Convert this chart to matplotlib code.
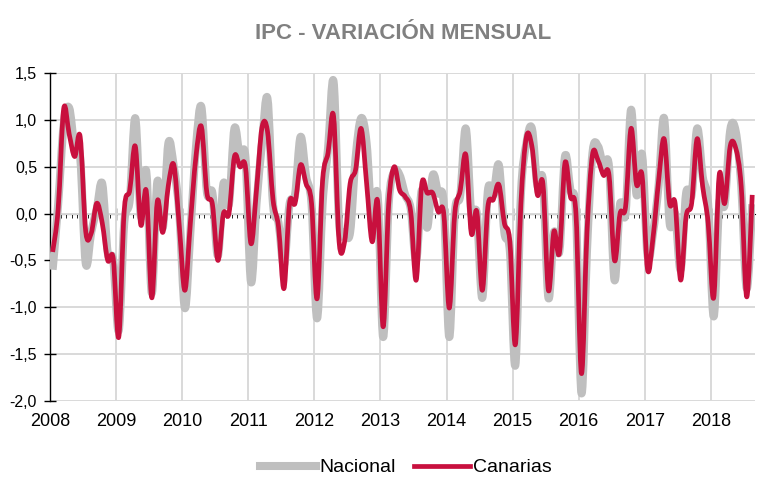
import matplotlib.pyplot as plt
import numpy as np
from matplotlib.path import Path
from matplotlib.patches import PathPatch
from matplotlib.lines import Line2D

plt.rcParams['font.family'] = ['Liberation Sans', 'DejaVu Sans']

# monthly data, Jan 2008 - Aug 2018
years = [str(y) for y in range(2008, 2019)]
nacional = [
    -0.60, 0.10, 0.95, 1.13, 0.70, 0.60, -0.53, -0.20, 0.05, 0.32, -0.42, -0.50,
    -1.25, -0.10, 0.15, 1.02, -0.03, 0.45, -0.85, 0.34, -0.15, 0.75, 0.50, 0.00,
    -1.01, -0.20, 0.70, 1.14, 0.23, 0.22, -0.45, 0.32, 0.10, 0.91, 0.60, 0.60,
    -0.73, 0.10, 0.75, 1.23, 0.10, -0.10, -0.55, 0.10, 0.20, 0.82, 0.40, 0.10,
    -1.12, 0.10, 0.70, 1.41, -0.10, -0.20, -0.20, 0.60, 1.02, 0.75, -0.10, 0.20,
    -1.32, 0.10, 0.45, 0.41, 0.20, 0.05, -0.50, 0.25, -0.15, 0.41, 0.22, 0.10,
    -1.32, 0.00, 0.20, 0.91, 0.00, 0.00, -0.90, 0.24, 0.20, 0.52, -0.20, -0.40,
    -1.62, 0.20, 0.75, 0.91, 0.30, 0.35, -0.90, -0.20, -0.40, 0.61, 0.25, 0.00,
    -1.92, -0.40, 0.65, 0.72, 0.50, 0.50, -0.71, 0.10, 0.00, 1.11, 0.20, 0.63,
    -0.45, -0.20, 0.30, 1.02, -0.10, 0.00, -0.60, 0.22, 0.20, 0.91, 0.40, 0.10,
    -1.10, 0.10, 0.10, 0.89, 0.88, 0.30, -0.80, 0.10,
]
canarias = [
    -0.41, 0.05, 1.12, 0.85, 0.61, 0.82, -0.19, -0.21, 0.11, -0.10, -0.50, -0.48,
    -1.32, 0.04, 0.25, 0.72, -0.12, 0.24, -0.90, 0.13, -0.20, 0.30, 0.52, -0.14,
    -0.82, -0.10, 0.60, 0.93, 0.22, 0.10, -0.50, 0.00, 0.00, 0.61, 0.50, 0.50,
    -0.32, 0.25, 0.92, 0.88, 0.15, -0.14, -0.80, 0.11, 0.11, 0.52, 0.32, 0.11,
    -0.91, 0.35, 0.65, 1.04, -0.30, -0.30, 0.32, 0.47, 0.91, 0.32, -0.30, 0.13,
    -1.21, 0.10, 0.50, 0.25, 0.18, 0.02, -0.71, 0.31, 0.22, 0.22, 0.02, 0.00,
    -1.01, 0.00, 0.25, 0.63, -0.21, 0.02, -0.82, 0.07, 0.15, 0.31, -0.10, -0.30,
    -1.40, 0.10, 0.82, 0.72, 0.20, 0.32, -0.82, -0.19, -0.42, 0.54, 0.18, 0.00,
    -1.71, -0.20, 0.63, 0.57, 0.41, 0.41, -0.50, 0.00, 0.07, 0.91, 0.31, 0.41,
    -0.60, -0.25, 0.35, 0.80, 0.11, 0.11, -0.71, -0.03, 0.11, 0.80, 0.29, -0.10,
    -0.90, 0.41, 0.11, 0.72, 0.70, 0.29, -0.89, 0.20,
]

grey = '#BFBFBF'
red = '#C8103E'


def smooth_path(vals):
    # Excel-like smoothed line (Catmull-Rom as cubic Bezier)
    y = np.asarray(vals, float)
    x = np.arange(len(y)) + 0.5
    xp = np.concatenate([[x[0]], x, [x[-1]]])
    yp = np.concatenate([[y[0]], y, [y[-1]]])
    verts = [(x[0], y[0])]
    codes = [Path.MOVETO]
    for i in range(len(y) - 1):
        c1 = (x[i] + (xp[i + 2] - xp[i]) / 6, y[i] + (yp[i + 2] - yp[i]) / 6)
        c2 = (x[i + 1] - (xp[i + 3] - xp[i + 1]) / 6, y[i + 1] - (yp[i + 3] - yp[i + 1]) / 6)
        verts += [c1, c2, (x[i + 1], y[i + 1])]
        codes += [Path.CURVE4] * 3
    return Path(verts, codes)


fig = plt.figure(figsize=(7.7, 4.8), dpi=100)
ax = fig.add_axes([0.0648, 0.1652, 0.9157, 0.6821])

n = len(nacional)
ax.set_xlim(0, n)
ax.set_ylim(-2.0, 1.5)

ax.add_patch(PathPatch(smooth_path(nacional), fill=False, edgecolor=grey, lw=5.8,
                       joinstyle='round', capstyle='butt', zorder=3))
ax.add_patch(PathPatch(smooth_path(canarias), fill=False, edgecolor=red, lw=3.4,
                       joinstyle='round', capstyle='butt', zorder=4))

# y axis
yt = np.arange(-2.0, 1.51, 0.5)
ax.set_yticks(yt)
ax.set_yticklabels([f'{v:.1f}'.replace('.', ',') for v in yt], fontsize=11.5)
ax.tick_params(axis='y', direction='inout', length=8.5, width=1, pad=5)

# x axis: year labels at bottom, no marks
ax.set_xticks(np.arange(0, n, 12))
ax.set_xticklabels(years, fontsize=13)
ax.tick_params(axis='x', length=0, pad=9)

ax.grid(True, color='#D9D9D9', lw=1.4, zorder=0)
ax.set_axisbelow(True)
for s in ['top', 'right', 'bottom']:
    ax.spines[s].set_visible(False)
ax.spines['left'].set_linewidth(1.0)

# horizontal axis line at zero with monthly ticks
zero = ax.secondary_xaxis(2.0 / 3.5)
zero.set_xticks(np.arange(12, n, 12))
zero.set_xticks(np.arange(0, n, 1), minor=True)
zero.tick_params(which='major', direction='inout', length=8, width=1)
zero.tick_params(which='minor', direction='in', length=3, width=0.6)
zero.set_xticklabels([])
zero.spines['bottom'].set_linewidth(1.0)

fig.text(0.523, 0.931, 'IPC - VARIACIÓN MENSUAL', ha='center', va='center',
         fontsize=16, fontweight='bold', color='#808080')

handles = [Line2D([], [], color=grey, lw=5.8), Line2D([], [], color=red, lw=3.4)]
fig.legend(handles, ['Nacional', 'Canarias'], loc='center', bbox_to_anchor=(0.527, 0.026),
           ncol=2, frameon=False, fontsize=14, handlelength=2.9, handletextpad=0.15,
           columnspacing=0.95)

fig.savefig('out.png', dpi=100)
